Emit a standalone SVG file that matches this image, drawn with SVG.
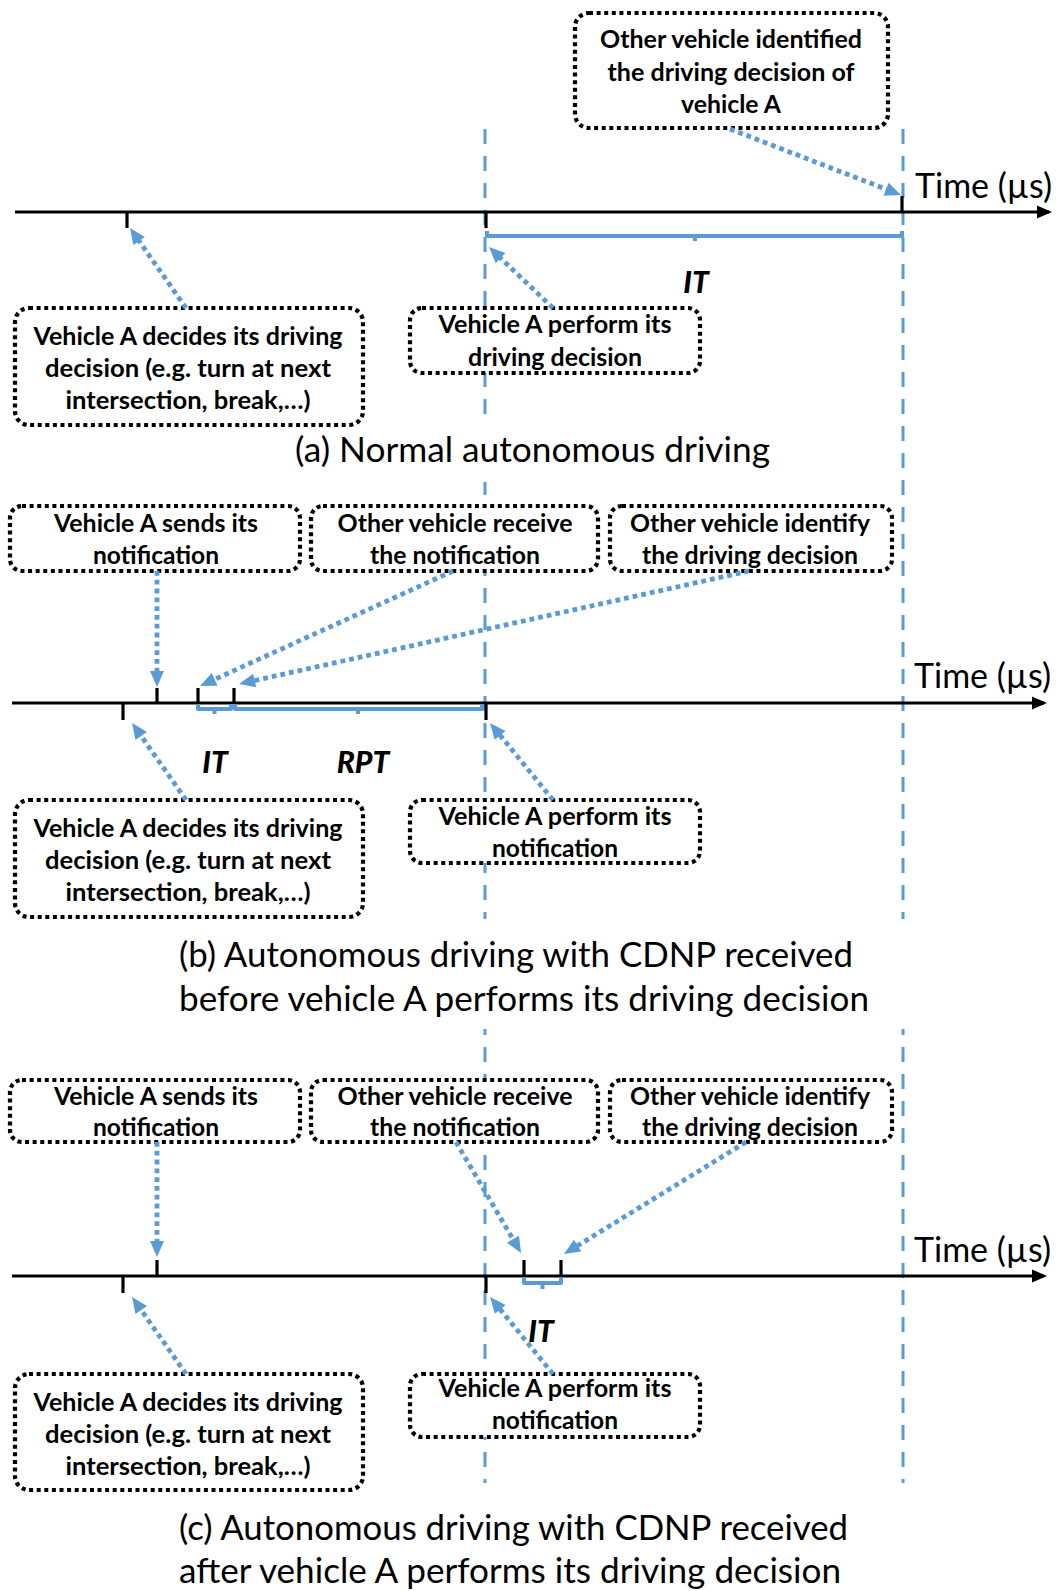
<svg xmlns="http://www.w3.org/2000/svg" width="1061" height="1591" viewBox="0 0 1061 1591">
<style>
.bg{fill:#ffffff}
.vdash{stroke:#5B9BD5;stroke-width:3;stroke-dasharray:15 12;fill:none}
.axis{stroke:#000;stroke-width:3.2;fill:none}
.tick{stroke:#000;stroke-width:3.2;fill:none}
.box{fill:#fff;stroke:#000;stroke-width:4.2;stroke-dasharray:4 3.6}
.arr{stroke:#5B9BD5;stroke-width:4.8;stroke-dasharray:4.8 4;fill:none}
.brk{stroke:#5B9BD5;stroke-width:4;fill:none;stroke-linejoin:round}
.bt{font-family:Lato,"Open Sans","Liberation Sans",sans-serif;font-weight:bold;font-size:25px;text-anchor:middle;fill:#000}
.cap{font-family:Lato,"Open Sans","Liberation Sans",sans-serif;font-size:34px;fill:#000}
.lbl{font-family:Lato,"Open Sans","Liberation Sans",sans-serif;font-weight:900;font-style:italic;font-size:30px;text-anchor:middle;fill:#000}
</style>
<defs>
<marker id="ah" viewBox="-12 -8 20 16" refX="0" refY="0" markerWidth="20" markerHeight="16" markerUnits="userSpaceOnUse" orient="auto"><path d="M-10,-7 L6,0 L-10,7 z" fill="#5B9BD5"/></marker>
<marker id="ax" viewBox="-14 -8 20 16" refX="0" refY="0" markerWidth="20" markerHeight="16" markerUnits="userSpaceOnUse" orient="auto"><path d="M-12,-6.5 L3,0 L-12,6.5 z" fill="#000"/></marker>
</defs>
<rect class="bg" x="0" y="0" width="1061" height="1591"/>

<g id="guides">
<line class="vdash" x1="485" y1="129" x2="485" y2="1483"/>
<line class="vdash" x1="903" y1="129" x2="903" y2="1483"/>
</g>

<g id="captions">
<rect class="bg" x="285" y="418" width="495" height="64"/>
<text class="cap" x="295" y="462" textLength="475" lengthAdjust="spacingAndGlyphs">(a) Normal autonomous driving</text>
<rect class="bg" x="170" y="919" width="742" height="110"/>
<text class="cap" x="179" y="967" textLength="674" lengthAdjust="spacingAndGlyphs">(b) Autonomous driving with CDNP received</text>
<text class="cap" x="179" y="1011" textLength="690" lengthAdjust="spacingAndGlyphs">before vehicle A performs its driving decision</text>
<text class="cap" x="179" y="1540" textLength="669" lengthAdjust="spacingAndGlyphs">(c) Autonomous driving with CDNP received</text>
<text class="cap" x="179" y="1583" textLength="662" lengthAdjust="spacingAndGlyphs">after vehicle A performs its driving decision</text>
</g>

<g id="timeline-a">
<line class="axis" x1="15" y1="212" x2="1049" y2="212" marker-end="url(#ax)"/>
<line class="tick" x1="127" y1="212" x2="127" y2="228"/>
<line class="tick" x1="486" y1="212" x2="486" y2="228"/>
<line class="tick" x1="902" y1="196" x2="902" y2="212"/>
<text class="cap" x="915" y="198" textLength="137" lengthAdjust="spacingAndGlyphs">Time (µs)</text>
</g>
<g id="timeline-b">
<line class="axis" x1="12" y1="703" x2="1044" y2="703" marker-end="url(#ax)"/>
<line class="tick" x1="123" y1="703" x2="123" y2="720"/>
<line class="tick" x1="157" y1="688" x2="157" y2="703"/>
<line class="tick" x1="198" y1="688" x2="198" y2="703"/>
<line class="tick" x1="234" y1="688" x2="234" y2="703"/>
<line class="tick" x1="486" y1="703" x2="486" y2="720"/>
<text class="cap" x="914" y="688" textLength="137" lengthAdjust="spacingAndGlyphs">Time (µs)</text>
</g>
<g id="timeline-c">
<line class="axis" x1="12" y1="1276" x2="1044" y2="1276" marker-end="url(#ax)"/>
<line class="tick" x1="123" y1="1276" x2="123" y2="1293"/>
<line class="tick" x1="157" y1="1260" x2="157" y2="1276"/>
<line class="tick" x1="524" y1="1260" x2="524" y2="1276"/>
<line class="tick" x1="561" y1="1260" x2="561" y2="1276"/>
<line class="tick" x1="486" y1="1276" x2="486" y2="1293"/>
<text class="cap" x="914" y="1262" textLength="137" lengthAdjust="spacingAndGlyphs">Time (µs)</text>
</g>

<g id="n-a-identified">
<rect class="box" x="575" y="13" width="313" height="115" rx="14"/>
<text class="bt" x="731" y="48" textLength="262" lengthAdjust="spacingAndGlyphs">Other vehicle identified</text>
<text class="bt" x="731" y="81" textLength="247" lengthAdjust="spacingAndGlyphs">the driving decision of</text>
<text class="bt" x="731" y="113" textLength="100" lengthAdjust="spacingAndGlyphs">vehicle A</text>
</g>
<g id="n-a-decides">
<rect class="box" x="15" y="308" width="348" height="117" rx="14"/>
<text class="bt" x="188" y="345" textLength="309" lengthAdjust="spacingAndGlyphs">Vehicle A decides its driving</text>
<text class="bt" x="188" y="377" textLength="286" lengthAdjust="spacingAndGlyphs">decision (e.g. turn at next</text>
<text class="bt" x="188" y="409" textLength="245" lengthAdjust="spacingAndGlyphs">intersection, break,…)</text>
</g>
<g id="n-a-perform">
<rect class="box" x="410" y="308" width="290" height="65" rx="12"/>
<text class="bt" x="555" y="333" textLength="233" lengthAdjust="spacingAndGlyphs">Vehicle A perform its</text>
<text class="bt" x="555" y="366" textLength="174" lengthAdjust="spacingAndGlyphs">driving decision</text>
</g>

<g id="n-b-sends">
<rect class="box" x="10" y="506" width="290" height="65" rx="12"/>
<text class="bt" x="156" y="532" textLength="204" lengthAdjust="spacingAndGlyphs">Vehicle A sends its</text>
<text class="bt" x="156" y="564" textLength="126" lengthAdjust="spacingAndGlyphs">notification</text>
</g>
<g id="n-b-receive">
<rect class="box" x="311" y="506" width="287" height="65" rx="12"/>
<text class="bt" x="455" y="532" textLength="235" lengthAdjust="spacingAndGlyphs">Other vehicle receive</text>
<text class="bt" x="455" y="564" textLength="170" lengthAdjust="spacingAndGlyphs">the notification</text>
</g>
<g id="n-b-identify">
<rect class="box" x="610" y="506" width="282" height="65" rx="12"/>
<text class="bt" x="750" y="532" textLength="240" lengthAdjust="spacingAndGlyphs">Other vehicle identify</text>
<text class="bt" x="750" y="564" textLength="216" lengthAdjust="spacingAndGlyphs">the driving decision</text>
</g>
<g id="n-b-decides">
<rect class="box" x="15" y="800" width="348" height="117" rx="14"/>
<text class="bt" x="188" y="837" textLength="309" lengthAdjust="spacingAndGlyphs">Vehicle A decides its driving</text>
<text class="bt" x="188" y="869" textLength="286" lengthAdjust="spacingAndGlyphs">decision (e.g. turn at next</text>
<text class="bt" x="188" y="901" textLength="245" lengthAdjust="spacingAndGlyphs">intersection, break,…)</text>
</g>
<g id="n-b-perform">
<rect class="box" x="410" y="800" width="290" height="63" rx="12"/>
<text class="bt" x="555" y="825" textLength="233" lengthAdjust="spacingAndGlyphs">Vehicle A perform its</text>
<text class="bt" x="555" y="857" textLength="126" lengthAdjust="spacingAndGlyphs">notification</text>
</g>

<g id="n-c-sends">
<rect class="box" x="10" y="1080" width="290" height="62" rx="12"/>
<text class="bt" x="156" y="1105" textLength="204" lengthAdjust="spacingAndGlyphs">Vehicle A sends its</text>
<text class="bt" x="156" y="1136" textLength="126" lengthAdjust="spacingAndGlyphs">notification</text>
</g>
<g id="n-c-receive">
<rect class="box" x="311" y="1080" width="287" height="62" rx="12"/>
<text class="bt" x="455" y="1105" textLength="235" lengthAdjust="spacingAndGlyphs">Other vehicle receive</text>
<text class="bt" x="455" y="1136" textLength="170" lengthAdjust="spacingAndGlyphs">the notification</text>
</g>
<g id="n-c-identify">
<rect class="box" x="610" y="1080" width="282" height="62" rx="12"/>
<text class="bt" x="750" y="1105" textLength="240" lengthAdjust="spacingAndGlyphs">Other vehicle identify</text>
<text class="bt" x="750" y="1136" textLength="216" lengthAdjust="spacingAndGlyphs">the driving decision</text>
</g>
<g id="n-c-decides">
<rect class="box" x="15" y="1374" width="348" height="116" rx="14"/>
<text class="bt" x="188" y="1411" textLength="309" lengthAdjust="spacingAndGlyphs">Vehicle A decides its driving</text>
<text class="bt" x="188" y="1443" textLength="286" lengthAdjust="spacingAndGlyphs">decision (e.g. turn at next</text>
<text class="bt" x="188" y="1475" textLength="245" lengthAdjust="spacingAndGlyphs">intersection, break,…)</text>
</g>
<g id="n-c-perform">
<rect class="box" x="410" y="1374" width="290" height="63" rx="12"/>
<text class="bt" x="555" y="1397" textLength="233" lengthAdjust="spacingAndGlyphs">Vehicle A perform its</text>
<text class="bt" x="555" y="1429" textLength="126" lengthAdjust="spacingAndGlyphs">notification</text>
</g>

<g id="connectors">
<line class="arr" x1="730" y1="129" x2="895.4" y2="192.8" marker-end="url(#ah)"/>
<line class="arr" x1="186" y1="308" x2="133.4" y2="232.9" marker-end="url(#ah)"/>
<line class="arr" x1="553" y1="308" x2="493.3" y2="251.2" marker-end="url(#ah)"/>
<line class="arr" x1="157" y1="571" x2="157" y2="681" marker-end="url(#ah)"/>
<line class="arr" x1="453" y1="571" x2="205.5" y2="683.5" marker-end="url(#ah)"/>
<line class="arr" x1="749" y1="571" x2="244.9" y2="682.7" marker-end="url(#ah)"/>
<line class="arr" x1="186" y1="800" x2="135.5" y2="727.9" marker-end="url(#ah)"/>
<line class="arr" x1="553" y1="800" x2="493.8" y2="727.6" marker-end="url(#ah)"/>
<line class="arr" x1="157" y1="1142" x2="157" y2="1251" marker-end="url(#ah)"/>
<line class="arr" x1="456" y1="1142" x2="518" y2="1247.8" marker-end="url(#ah)"/>
<line class="arr" x1="746" y1="1142" x2="569.1" y2="1250.9" marker-end="url(#ah)"/>
<line class="arr" x1="186" y1="1374" x2="135.5" y2="1301.9" marker-end="url(#ah)"/>
<line class="arr" x1="553" y1="1374" x2="493.9" y2="1301.6" marker-end="url(#ah)"/>
</g>

<g id="intervals">
<path class="brk" d="M487,231 V236 H902 V231 M695,236 V241"/>
<text class="lbl" x="696" y="293">IT</text>
<path class="brk" d="M198,704 V709 H231 V704 M214.5,709 V714"/>
<path class="brk" d="M235,704 V709 H482 V704 M358,709 V714"/>
<text class="lbl" x="215" y="773">IT</text>
<text class="lbl" x="363" y="773">RPT</text>
<path class="brk" d="M524,1277 V1283 H561 V1277 M542.5,1283 V1289"/>
<text class="lbl" x="541" y="1342">IT</text>
</g>
</svg>
